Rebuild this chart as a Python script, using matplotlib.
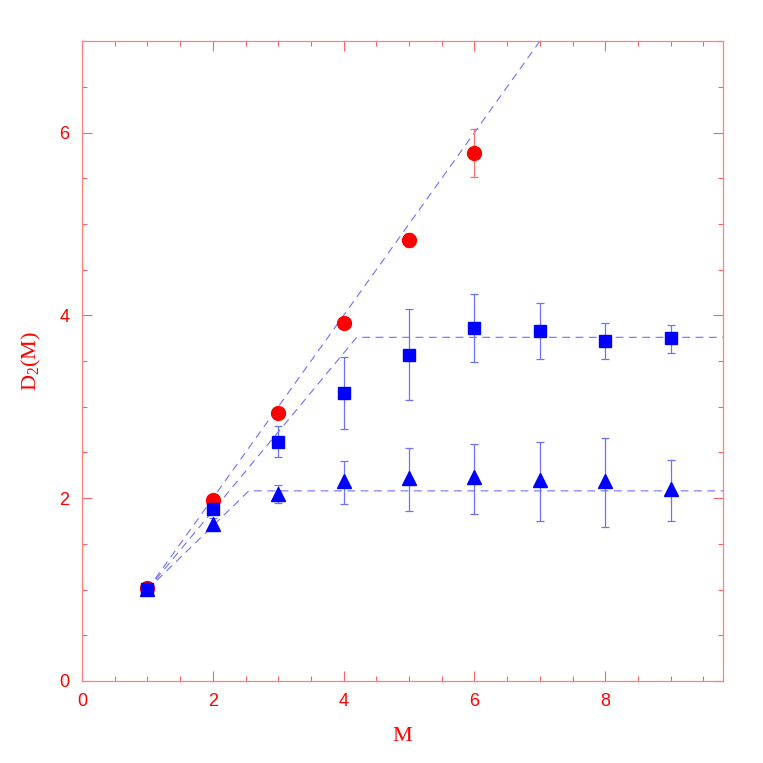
import matplotlib.pyplot as plt
from matplotlib.ticker import MultipleLocator

plt.rcParams['font.family'] = ['Liberation Sans', 'DejaVu Sans']
plt.rcParams['mathtext.fontset'] = 'custom'
plt.rcParams['mathtext.rm'] = 'Liberation Serif'
plt.rcParams['mathtext.it'] = 'Liberation Serif:italic'

# embedding dimension
m_circ = [1, 2, 3, 4, 5, 6]
m_sq = [1, 2, 3, 4, 5, 6, 7, 8, 9]
m_tri = [1, 2, 3, 4, 5, 6, 7, 8, 9]

# correlation dimension D2(M)
d2_circ = [1.02, 1.98, 2.93, 3.92, 4.82, 5.78]
circ_lo = [0.02, 0.03, 0.04, 0.04, 0.07, 0.27]
circ_hi = [0.02, 0.03, 0.04, 0.04, 0.08, 0.26]

d2_sq = [1.01, 1.88, 2.61, 3.15, 3.57, 3.86, 3.83, 3.72, 3.75]
sq_lo = [0.02, 0.05, 0.16, 0.39, 0.50, 0.37, 0.31, 0.20, 0.16]
sq_hi = [0.02, 0.05, 0.18, 0.40, 0.50, 0.37, 0.31, 0.20, 0.15]

d2_tri = [1.01, 1.72, 2.05, 2.19, 2.22, 2.23, 2.20, 2.19, 2.10]
tri_lo = [0.02, 0.06, 0.10, 0.25, 0.36, 0.40, 0.45, 0.50, 0.35]
tri_hi = [0.02, 0.06, 0.09, 0.22, 0.33, 0.36, 0.41, 0.47, 0.32]

# guide lines (saturation fits)
fit_circ_x = [1, 7]
fit_circ_y = [1, 7]
fit_sq_x = [1, 4.2, 9.8]
fit_sq_y = [1, 3.76, 3.76]
fit_tri_x = [1, 2.55, 9.8]
fit_tri_y = [1, 2.08, 2.08]

fig = plt.figure(figsize=(7.63, 7.63), dpi=100)
ax = fig.add_axes([0.1075, 0.1075, 0.84, 0.8385])

dash_kw = dict(color='#7070ff', lw=0.8, dashes=(7, 5))
ax.plot(fit_circ_x, fit_circ_y, **dash_kw)
ax.plot(fit_sq_x, fit_sq_y, **dash_kw)
ax.plot(fit_tri_x, fit_tri_y, **dash_kw)

ax.errorbar(m_circ, d2_circ, yerr=[circ_lo, circ_hi], fmt='o', color='#ff0000',
            ms=10, ecolor='#ff7070', elinewidth=0.9, capsize=3, capthick=0.9)
ax.errorbar(m_sq, d2_sq, yerr=[sq_lo, sq_hi], fmt='s', color='#0000ff',
            ms=8, ecolor='#7070ff', elinewidth=0.9, capsize=3, capthick=0.9)
ax.errorbar(m_tri, d2_tri, yerr=[tri_lo, tri_hi], fmt='^', color='#0000ff',
            ms=9.5, ecolor='#7070ff', elinewidth=0.9, capsize=3, capthick=0.9)

ax.set_xlim(0, 9.8)
ax.set_ylim(0, 7)
ax.xaxis.set_major_locator(MultipleLocator(2))
ax.xaxis.set_minor_locator(MultipleLocator(0.5))
ax.yaxis.set_major_locator(MultipleLocator(2))
ax.yaxis.set_minor_locator(MultipleLocator(0.5))

for s in ax.spines.values():
    s.set_color('#ff8080')
    s.set_linewidth(0.9)
ax.tick_params(which='both', direction='in', top=True, right=True,
               color='#ff6060', labelcolor='#ff0000', labelsize=13)
ax.tick_params(which='major', length=7, width=0.8, pad=9)
ax.tick_params(which='minor', length=3.5, width=0.8)

ax.set_xlabel('M', color='#ff0000', fontsize=16, family='Liberation Serif', labelpad=12)
ax.set_ylabel(r'D$_2$(M)', color='#ff0000', fontsize=16, family='Liberation Serif', labelpad=12)

fig.savefig('out.png', dpi=100)
